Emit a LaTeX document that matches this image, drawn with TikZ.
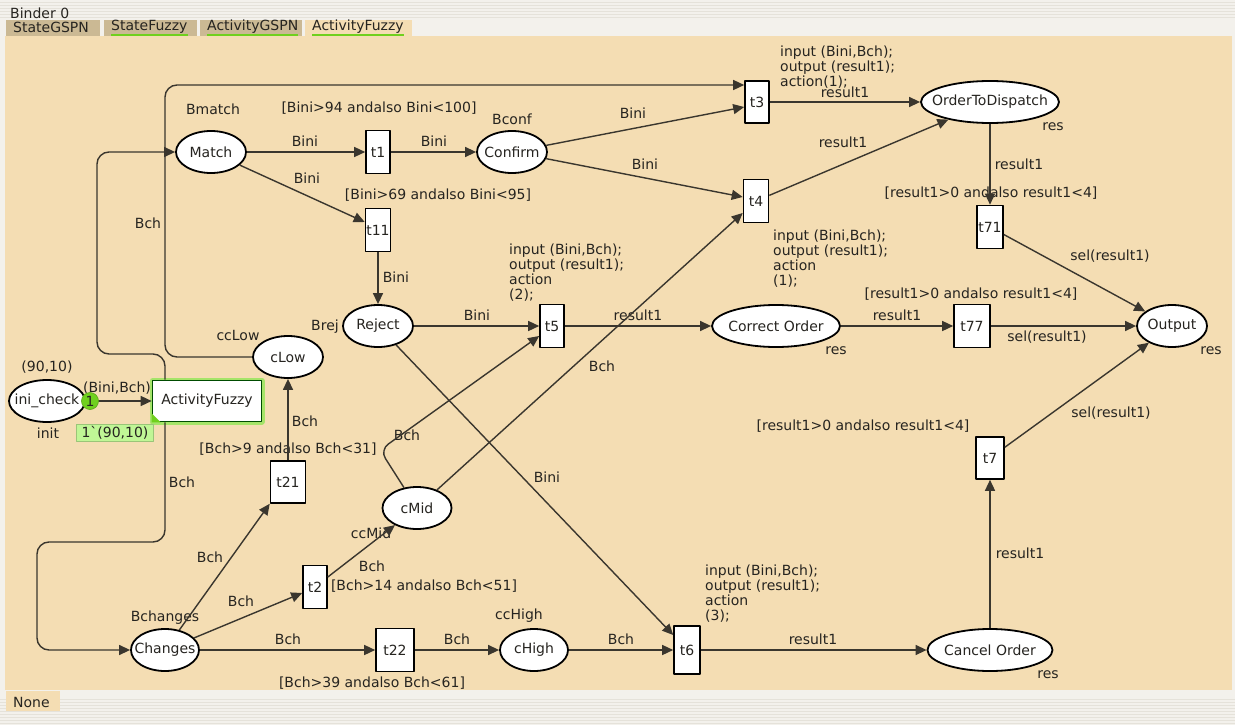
\documentclass[tikz,border=0pt]{standalone}
\usepackage{fontspec}
\setmainfont{DejaVu Sans}
\usepackage{tikz}
\usetikzlibrary{shapes.geometric,arrows.meta}

\definecolor{panel}{RGB}{244,221,179}
\definecolor{tabdark}{RGB}{203,185,148}
\definecolor{strip}{RGB}{243,241,236}
\definecolor{stripline}{RGB}{229,226,218}
\definecolor{ink}{RGB}{38,36,32}
\definecolor{arcline}{RGB}{58,54,46}
\definecolor{tokgreen}{RGB}{112,208,30}
\definecolor{markgreen}{RGB}{192,246,150}
\definecolor{glow}{RGB}{165,228,105}

\newcommand{\plc}[1]{\makebox[0pt]{#1}}

\tikzset{
    every node/.style={font=\fontsize{14}{14.8}\selectfont, text=ink},
    place/.style={ellipse, draw=black, fill=white, line width=1.8pt, inner sep=0pt, minimum height=42},
    transition/.style={rectangle, draw=black, fill=white, line width=1.6pt, inner sep=0pt},
    subst/.style={rectangle, draw=black!70!green, fill=white, line width=1.6pt, inner sep=0pt,
        preaction={draw=glow, line width=6pt}},
    tokdot/.style={circle, fill=tokgreen, draw=tokgreen!80!black, line width=0.6pt, minimum size=17, inner sep=0pt},
    tokbox/.style={fill=markgreen, draw=markgreen!80!black, line width=0.4pt, inner xsep=5pt, inner ysep=2pt},
    flow/.style={->, draw=arcline, line width=1.4pt},
    lbl/.style={inner sep=0pt},
    inscr/.style={inner sep=0pt, align=left, anchor=north west},
}

\begin{document}
\begin{tikzpicture}[x=1pt, y=-1pt, >={Triangle[length=11pt,width=10pt]}, line join=round]

    \useasboundingbox (0,0) rectangle (1235,725);

    % window frame
    \fill [strip] (0,0) rectangle (1235,725);
    \foreach \y in {2,5,...,17}
        \draw [stripline] (0,\y) -- (1235,\y);
    \foreach \y in {699,702,...,724}
        \draw [stripline] (0,\y) -- (1235,\y);
    \fill [panel] (5,36) rectangle (1232,690);
    \node [lbl, anchor=west] (binder) at (10,13) {Binder 0};

    % tabs
    \foreach \a/\b/\t [count=\i] in {6/100/StateGSPN, 104/197/StateFuzzy, 200/302/ActivityGSPN, 305/412/ActivityFuzzy}
    {
        \ifnum\i<4 \fill [tabdark] (\a,20) rectangle (\b,36); \else \fill [panel] (\a,20) rectangle (\b,36); \fi
        \node [lbl, anchor=west] (tab-\i) at (\a+7,27) {\t};
        \ifnum\i>1 \draw [tokgreen, line width=1.5pt] ([yshift=-1pt]tab-\i.south west) -- ([yshift=-1pt]tab-\i.south east); \fi
    }
    \fill [panel] (6,691) rectangle (60,711);
    \node [lbl, anchor=west] (tab-none) at (13,702) {None};

    % places
    \foreach \n/\t/\x/\y/\w in {match/Match/211/152/70, confirm/Confirm/512/152/70,
            reject/Reject/378/326/70, clow/cLow/288/357/70, cmid/cMid/417/508/69,
            chigh/cHigh/534/650/68, changes/Changes/165/650/68, otd/OrderToDispatch/990/102/138,
            correct/Correct Order/776/326/128, output/Output/1172/326/70,
            cancel/Cancel Order/990/650/125, ini/ini\_check/47/401/76}
        \node [place, minimum width=\w] (\n) at (\x,\y) {\plc{\t}};

    % transitions
    \foreach \n/\x/\y/\w/\h in {t1/378/152/24/43, t11/378/230/25/43, t3/757/102/24/42,
            t4/756/201/25/43, t71/990/227/26/43, t5/552/326/24/43, t77/972/326/36/43,
            t7/990/458/28/42, t21/288/482/35/42, t2/315/587/24/43, t22/395/650/38/43,
            t6/687/650/26/48}
        \node [transition, minimum width=\w, minimum height=\h] (\n) at (\x,\y) {\plc{\n}};

    % substitution transition
    \node [subst, minimum width=109, minimum height=41] (af) at (207,401) {ActivityFuzzy};
    \fill [tokgreen] (af.south west) -- ++(9,0) -- ++(-9,-9) -- cycle;

    % place types, initial marking, res
    \foreach \t/\x/\y [count=\i] in {Bmatch/213/109, Bconf/512/119, Brej/325/327, ccLow/238/335,
            ccMid/371/533, ccHigh/519/616, Bchanges/165/618, init/48/433, {(90,10)}/47/367,
            res/1053/127, res/836/351, res/1211/351, res/1048/675}
        \node [lbl] (pl-\i) at (\x,\y) {\t};

    % guards
    \foreach \t/\x/\y [count=\i] in {{[Bini>94 andalso Bini<100]}/379/108,
            {[Bini>69 andalso Bini<95]}/438/195, {[Bch>9 andalso Bch<31]}/288/449,
            {[Bch>14 andalso Bch<51]}/424/586, {[Bch>39 andalso Bch<61]}/372/683,
            {[result1>0 andalso result1<4]}/991/193, {[result1>0 andalso result1<4]}/971/294,
            {[result1>0 andalso result1<4]}/863/426}
        \node [lbl] (grd-\i) at (\x,\y) {\t};

    % code segments
    \node [inscr] (code-t3) at (780,46) {input (Bini,Bch);\\output (result1);\\action(1);};
    \node [inscr] (code-t4) at (773,230) {input (Bini,Bch);\\output (result1);\\action\\(1);};
    \node [inscr] (code-t5) at (509,244) {input (Bini,Bch);\\output (result1);\\action\\(2);};
    \node [inscr] (code-t6) at (705,565) {input (Bini,Bch);\\output (result1);\\action\\(3);};

    % arc inscriptions
    \foreach \t/\x/\y [count=\i] in {{(Bini,Bch)}/117/388, Bini/305/141, Bini/434/141, Bini/307/178,
            Bini/396/277, Bini/633/113, Bini/645/164, result1/845/92, result1/843/142,
            result1/1019/164, sel(result1)/1110/256, Bini/477/315, result1/638/315,
            result1/897/315, sel(result1)/1047/337, sel(result1)/1111/413, result1/1020/553,
            result1/813/639, Bini/547/477, Bch/621/639, Bch/457/639, Bch/288/639, Bch/241/601,
            Bch/210/557, Bch/372/566, Bch/305/421, Bch/407/435, Bch/602/366, Bch/148/223,
            Bch/182/482}
        \node [lbl] (ins-\i) at (\x,\y) {\t};

    % arcs
    \draw [flow] (ini) -- (af);
    \draw [flow] (match) -- (t1);
    \draw [flow] (t1) -- (confirm);
    \draw [flow] (match) -- ([yshift=8pt]t11.west);
    \draw [flow] (t11) -- (reject);
    \draw [flow] (confirm) -- ([yshift=-5pt]t3.west);
    \draw [flow] (confirm) -- ([yshift=4pt]t4.west);
    \draw [flow] (t3) -- (otd);
    \draw [flow] (t4) -- (otd);
    \draw [flow] (otd) -- (t71);
    \draw [flow] (t71) -- (output);
    \draw [flow] (reject) -- (t5);
    \draw [flow] (t5) -- (correct);
    \draw [flow] (correct) -- (t77);
    \draw [flow] (t77) -- (output);
    \draw [flow] (t7) -- (output);
    \draw [flow] (cancel) -- (t7);
    \draw [flow] (t6) -- (cancel);
    \draw [flow] (reject) -- ([yshift=15pt]t6.west);
    \draw [flow] (chigh) -- (t6);
    \draw [flow] (t22) -- (chigh);
    \draw [flow] (changes) -- (t22);
    \draw [flow] (changes) -- ([yshift=-6pt]t2.west);
    \draw [flow] (changes) -- (t21.south west);
    \draw [flow] ([yshift=10pt]t2.east) -- (cmid);
    \draw [flow] (t21) -- (clow);
    \draw [flow, rounded corners=10pt] (cmid) -- (380,450) -- ([yshift=-10pt]t5.west);
    \draw [flow] (cmid) -- ([yshift=-12pt]t4.west);
    \draw [flow, rounded corners=12pt] (clow) -- (165,357) -- (165,85) -- ([yshift=17pt]t3.west);
    \draw [flow, rounded corners=12pt] ([xshift=-42pt]af.north) -- (165,354) -- (97,354) -- (97,152) -- (match);
    \draw [flow, rounded corners=12pt] ([xshift=-42pt]af.south) -- (165,542) -- (37,542) -- (37,650) -- (changes);

    % token and marking
    \node [tokdot] (tok) at (90,401) {1};
    \node [tokbox] (mk) at (115,433) {1\textasciigrave(90,10)};

\end{tikzpicture}
\end{document}
